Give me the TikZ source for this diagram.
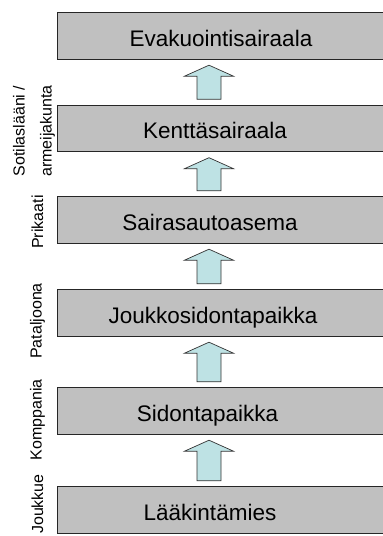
\documentclass[tikz,border=0pt]{standalone}
\usepackage{fontspec}
\setmainfont{Liberation Sans}
\usetikzlibrary{positioning,calc,backgrounds}
\definecolor{barfill}{RGB}{192,192,192}
\definecolor{liftfill}{RGB}{190,226,228}
\tikzstyle{tier}=[minimum height=46pt,inner sep=0pt,text height=21pt,text depth=0pt,font=\fontsize{22.5}{26}\selectfont]
\tikzstyle{tier bar}=[fill=barfill,draw=black!85,line width=0.8pt]
\tikzstyle{tier label}=[rotate=90,inner sep=0pt,font=\fontsize{16}{19}\selectfont]
\tikzstyle{lift}=[fill=liftfill,draw=black!80,line width=0.7pt,line join=miter]
\newcommand{\liftarrow}[2]{
  \draw[lift] let \p1=($(#1.north -| axis)+(0,6)$), \p2=($(#2.south -| axis)+(0,-6)$) in
    (\x1-12pt,\y1) -- (\x1+12pt,\y1) -- (\x1+12pt,\y2-11pt) -- (\x1+24.5pt,\y2-11pt)
    -- (\x2,\y2) -- (\x1-24.5pt,\y2-11pt) -- (\x1-12pt,\y2-11pt) -- cycle
}

\begin{document}
\begin{tikzpicture}[x=1pt,y=1pt]
        \clip (0,0) rectangle (383,536);
        \coordinate (barleft) at (57,0);
        \coordinate (barright) at (392,0);
        \coordinate (axis) at (209,0);

        \node[tier] (evak) at (221,500) {Evakuointisairaala};
        \node[tier] (kentta) at (215,407.5) {Kenttäsairaala};
        \node[tier] (sairas) at (210,316) {Sairasautoasema};
        \node[tier] (joukko) at (213,223) {Joukkosidontapaikka};
        \node[tier] (sidonta) at (207.5,125) {Sidontapaikka};
        \node[tier] (laakin) at (210,26) {Lääkintämies};

        \begin{scope}[on background layer]
            \foreach \n in {evak,kentta,sairas,joukko,sidonta,laakin}
                \draw[tier bar] (\n.south -| barleft) rectangle (\n.north -| barright);
        \end{scope}

        % unit levels on the left
        \node[tier label] (sotilas) at (19,405) {Sotilaslääni /};
        \node[tier label] (armeija) at (47.5,405) {armeijakunta};
        \node[tier label] (prikaati) at (37.5,314) {Prikaati};
        \node[tier label] (pataljoona) at (37.5,215) {Pataljoona};
        \node[tier label] (komppania) at (37.5,116) {Komppania};
        \node[tier label] (joukkue) at (37.5,32) {Joukkue};

        \liftarrow{laakin}{sidonta};
        \liftarrow{sidonta}{joukko};
        \liftarrow{joukko}{sairas};
        \liftarrow{sairas}{kentta};
        \liftarrow{kentta}{evak};
\end{tikzpicture}
\end{document}
